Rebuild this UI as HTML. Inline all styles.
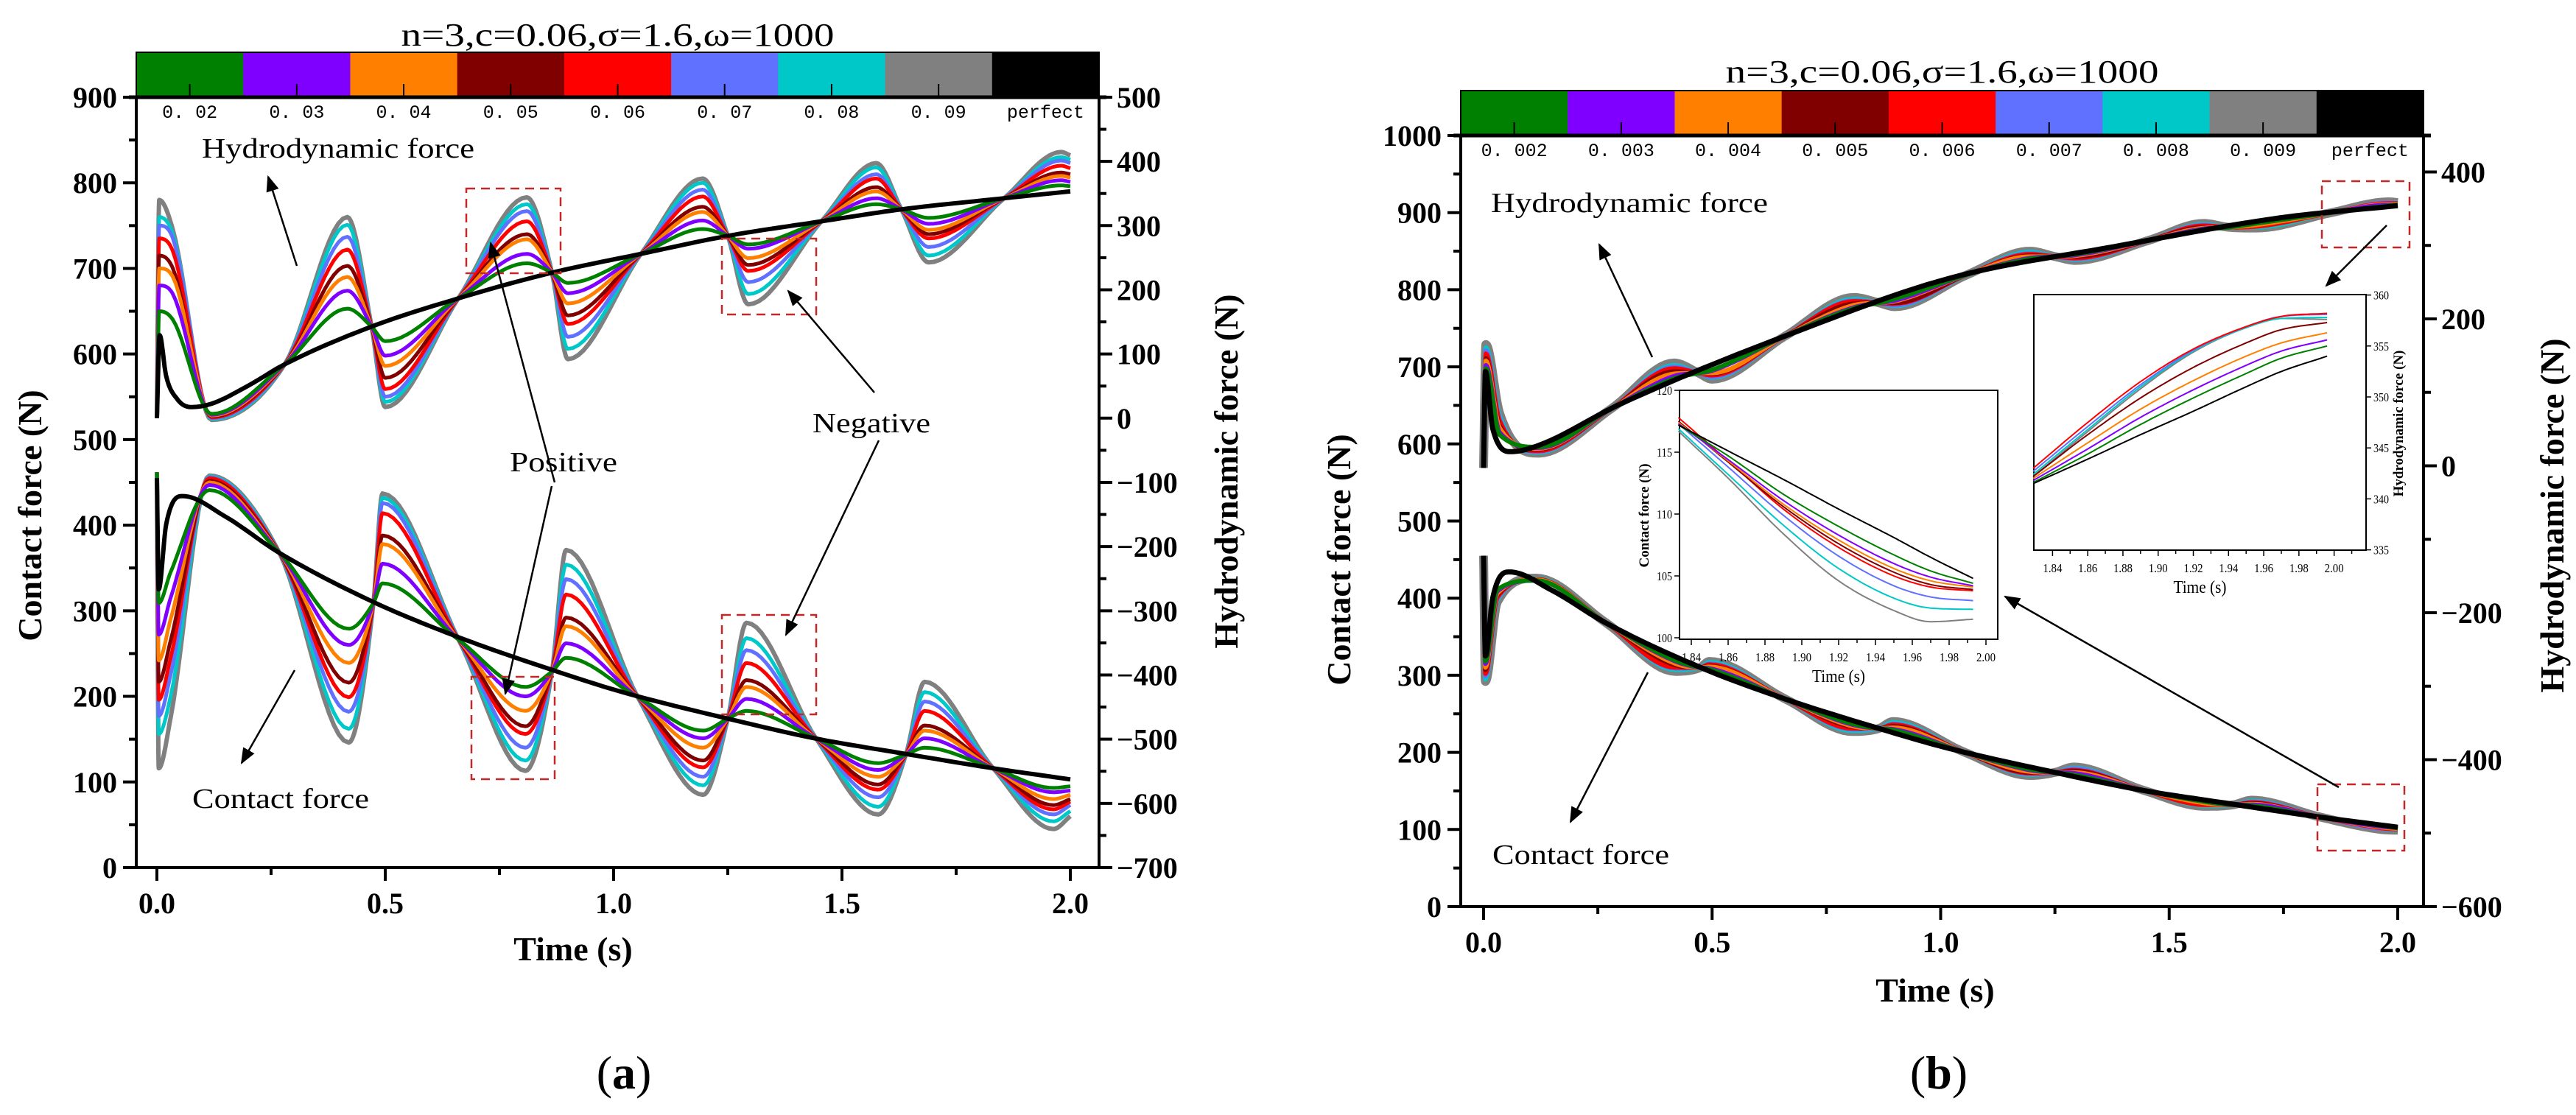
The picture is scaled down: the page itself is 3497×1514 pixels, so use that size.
<!DOCTYPE html>
<html><head><meta charset="utf-8"><style>
html,body{margin:0;padding:0;background:#fff;}
svg{display:block;}
text{font-family:"Liberation Serif",serif;}
.tk{font-weight:bold;font-size:40px;}
.ax{font-weight:bold;font-size:46px;}
.cb{font-family:"Liberation Mono",monospace;font-size:25px;}
.an{font-size:38px;}
.sm{font-size:17px;}
</style></head><body>
<svg id="fig" width="3497" height="1514" viewBox="0 0 3497 1514" xmlns="http://www.w3.org/2000/svg">
<defs>
<marker id="ah" viewBox="0 0 10 10" refX="9" refY="5" markerWidth="22" markerHeight="22" markerUnits="userSpaceOnUse" orient="auto"><path d="M0,1 L10,5 L0,9 z" fill="#000"/></marker>
<clipPath id="clipA"><rect x="185" y="132" width="1307" height="1046"/></clipPath>
<clipPath id="clipB"><rect x="1983" y="184" width="1307" height="1047"/></clipPath>
</defs>
<g id="layer"></g>
</svg>
<script>
// ---------- data ----------
const seriesNames = ["gray","cyan","blue","red","darkred","orange","purple","green"];
const seriesColors = {gray:"#808080",cyan:"#00C8C8",blue:"#6070FF",red:"#FF0000",darkred:"#800000",orange:"#FF8000",purple:"#8000FF",green:"#008000"};
const legendColors = ["#008000","#8000FF","#FF8000","#800000","#FF0000","#6070FF","#00C8C8","#808080","#000000"];
const legendA = ["0. 02","0. 03","0. 04","0. 05","0. 06","0. 07","0. 08","0. 09","perfect"];
const legendB = ["0. 002","0. 003","0. 004","0. 005","0. 006","0. 007","0. 008","0. 009","perfect"];

// Panel (a) hydrodynamic force (values read on contact-force scale)
const tHydro = [0,0.005,0.035,0.12,0.28,0.417,0.47,0.50,0.66,0.81,0.865,0.90,1.06,1.195,1.25,1.295,1.455,1.575,1.63,1.69,1.855,1.98,2.0];
const hydroA_gray    = [525,780,745,523,588,760,632,538,665,783,695,594,717,805,738,658,755,823,769,707,782,836,832];
const hydroA_cyan    = [525,760,740,524,588,751,632,544,665,775,695,606,717,800,738,670,755,818,769,715,782,830,827];
const hydroA_blue    = [525,750,735,525,588,737,632,550,665,767,695,620,717,792,738,684,755,810,769,725,782,826,823];
const hydroA_red     = [525,735,720,526,588,722,632,559,665,755,695,635,717,784,738,697,755,805,769,735,782,820,817];
const hydroA_darkred = [525,715,700,527,588,703,632,572,665,740,695,645,717,772,738,704,755,795,769,740,782,812,810];
const hydroA_orange  = [525,700,690,528,588,690,632,586,665,734,695,659,717,766,738,712,755,790,769,745,782,808,806];
const hydroA_purple  = [525,680,670,529,588,674,632,598,665,717,695,671,717,756,738,723,755,782,769,752,782,803,801];
const hydroA_green   = [525,650,640,530,588,653,632,615,665,706,695,683,717,746,738,728,755,775,769,759,782,797,796];
const tHydroPerfA = [0,0.006,0.02,0.045,0.075,0.12,0.2,0.28,0.47,0.66,0.865,1.06,1.25,1.455,1.63,1.855,2.0];
const hydroA_perfect = [525,622,575,547,538,542,563,588,632,665,695,717,738,755,769,782,790];

// Panel (a) contact force
const tContact = [0,0.004,0.03,0.115,0.268,0.42,0.474,0.494,0.661,0.807,0.865,0.896,1.053,1.196,1.25,1.291,1.443,1.579,1.64,1.681,1.831,1.963,2.0];
const contactA_gray    = [462,116,175,458,368,146,309,437,266,113,229,371,199,85,174,286,151,62,132,217,116,45,60];
const contactA_cyan    = [462,156,200,457,368,162,309,432,266,125,229,354,199,96,174,268,151,71,132,205,116,54,66];
const contactA_blue    = [462,177,225,456,368,182,309,426,266,140,229,337,199,106,174,254,151,82,132,194,116,62,73];
const contactA_red     = [462,196,245,455,368,199,309,414,266,156,229,319,199,117,174,239,151,91,132,183,116,68,77];
const contactA_darkred = [462,217,265,452,368,216,309,388,266,165,229,292,199,125,174,219,151,97,132,166,116,73,80];
const contactA_orange  = [462,242,290,450,368,239,309,378,266,183,229,282,199,140,174,211,151,106,132,160,116,80,85];
const contactA_purple  = [462,272,315,447,368,260,309,355,266,200,229,262,199,151,174,197,151,114,132,151,116,88,90];
const contactA_green   = [462,309,345,441,368,279,309,332,266,211,229,245,199,160,174,183,151,122,132,140,116,93,95];
const tContactPerf = [0,0.004,0.02,0.057,0.15,0.267,0.471,0.661,0.865,1.019,1.25,1.44,1.637,1.831,2.0];
const contactA_perfect = [455,325,400,434,410,368,311,269,231,205,174,151,133,116,103];

// Panel (b) hydrodynamic force
const hydroB_gray    = [569,729,640,588,646,705,692,684,740,790,783,778,820,850,843,838,864,886,881,880,900,914,913];
const hydroB_cyan    = [569,725,637,589,646,702,692,686,740,788,783,779,820,849,843,839,864,885,881,881,900,913,913];
const hydroB_blue    = [569,721,633,590,646,700,692,687,740,786,783,780,820,847,843,840,864,884,881,882,900,913,912];
const hydroB_red     = [569,717,630,591,646,698,692,689,740,785,783,782,820,846,843,841,864,883,881,882,900,912,912];
const hydroB_darkred = [569,711,624,593,646,694,692,691,740,782,783,783,820,844,843,843,864,881,881,884,900,911,911];
const hydroB_orange  = [569,708,621,594,646,691,692,692,740,780,783,785,820,843,843,844,864,880,881,884,900,911,911];
const hydroB_purple  = [569,702,615,595,646,688,692,695,740,777,783,786,820,841,843,845,864,879,881,886,900,910,910];
const hydroB_green   = [569,698,612,596,646,685,692,696,740,776,783,788,820,840,843,846,864,878,881,886,900,909,910];
const tHydroPerfB = [0,0.004,0.02,0.06,0.12,0.3,0.66,1.02,1.38,1.74,2.0];
const hydroB_perfect = [569,694,620,590,598,652,740,815,856,893,909];

// Panel (b) contact force
const contactB_gray    = [455,292,395,426,368,305,310,318,269,227,231,240,200,170,174,181,151,130,132,138,116,100,99];
const contactB_cyan    = [455,295,397,426,368,307,310,317,269,228,231,239,200,171,174,180,151,131,132,137,116,101,99];
const contactB_blue    = [455,299,399,425,368,309,310,315,269,230,231,237,200,172,174,179,151,132,132,136,116,101,100];
const contactB_red     = [455,302,401,425,368,310,310,314,269,231,231,236,200,173,174,177,151,132,132,135,116,102,100];
const contactB_darkred = [455,307,404,424,368,313,310,312,269,233,231,234,200,174,174,176,151,134,132,134,116,103,101];
const contactB_orange  = [455,310,406,424,368,315,310,311,269,234,231,232,200,175,174,174,151,134,132,133,116,103,101];
const contactB_purple  = [455,315,409,423,368,318,310,309,269,236,231,230,200,177,174,173,151,136,132,132,116,104,102];
const contactB_green   = [455,318,411,423,368,319,310,308,269,237,231,229,200,178,174,171,151,136,132,131,116,105,102];
const contactB_perfect = [455,325,400,434,410,368,311,269,231,205,174,151,133,116,103];

// Inset 1 (contact zoom)
const tInset1 = [1.833,1.86,1.89,1.92,1.95,1.97,1.993];
const inset1_perfect = [117.2,115.1,112.8,110.4,108.1,106.5,104.8];
const inset1_green   = [117.2,114.7,111.6,109.0,106.7,105.4,104.4];
const inset1_purple  = [117.3,114.4,111.1,108.3,106.0,104.9,104.2];
const inset1_orange  = [117.4,114.3,110.8,107.9,105.6,104.6,104.1];
const inset1_darkred = [117.5,114.2,110.6,107.6,105.3,104.3,103.9];
const inset1_red     = [117.8,114.3,110.4,107.3,105.0,104.1,103.8];
const inset1_blue    = [117.3,113.8,109.9,106.6,104.2,103.3,103.0];
const inset1_cyan    = [116.9,113.2,109.1,105.6,103.2,102.4,102.3];
const inset1_gray    = [116.7,112.9,108.4,104.6,102.2,101.3,101.5];
const inset1Ticks = [100,105,110,115,120];
const insetXTicks = ["1.84","1.86","1.88","1.90","1.92","1.94","1.96","1.98","2.00"];

// Inset 2 (hydrodynamic zoom)
const tInset2 = [1.829,1.86,1.89,1.92,1.95,1.97,1.996];
const inset2_perfect = [341.5,343.9,346.3,348.6,351.0,352.5,354.0];
const inset2_green   = [341.6,344.4,347.3,349.9,352.3,353.8,355.0];
const inset2_purple  = [341.8,344.9,348.0,350.7,353.1,354.5,355.6];
const inset2_orange  = [342.0,345.5,348.8,351.6,354.0,355.3,356.3];
const inset2_darkred = [342.2,346.3,349.9,352.9,355.3,356.6,357.3];
const inset2_red     = [343.0,347.5,351.5,354.7,356.9,357.9,358.2];
const inset2_blue    = [342.7,347.1,351.2,354.6,356.9,357.9,358.1];
const inset2_cyan    = [342.4,346.8,351.0,354.5,356.8,357.7,357.8];
const inset2_gray    = [342.2,346.6,350.8,354.4,356.8,357.7,357.6];
const inset2Ticks = [335,340,345,350,355,360];

const xTicks = ["0.0","0.5","1.0","1.5","2.0"];
const leftTicksA = [0,100,200,300,400,500,600,700,800,900];
const rightTicksA = [-700,-600,-500,-400,-300,-200,-100,0,100,200,300,400,500];
const leftTicksB = [0,100,200,300,400,500,600,700,800,900,1000];
const rightTicksB = [-600,-400,-200,0,200,400];

// ---------- helpers ----------
const NS="http://www.w3.org/2000/svg";
const layer=document.getElementById('layer');
function el(tag,attrs,parent){const e=document.createElementNS(NS,tag);for(const k in attrs)e.setAttribute(k,attrs[k]);(parent||layer).appendChild(e);return e;}
function txt(s,attrs,parent){const e=el('text',attrs,parent);e.textContent=s;return e;}
function mono(xs,ys){
  const n=xs.length,d=[],m=new Array(n);
  for(let i=0;i<n-1;i++)d.push((ys[i+1]-ys[i])/(xs[i+1]-xs[i]));
  m[0]=d[0];m[n-1]=d[n-2];
  for(let i=1;i<n-1;i++){m[i]=(d[i-1]*d[i]<=0)?0:(d[i-1]+d[i])/2;}
  for(let i=0;i<n-1;i++){if(d[i]===0){m[i]=0;m[i+1]=0;continue;}const a=m[i]/d[i],b=m[i+1]/d[i],s=a*a+b*b;if(s>9){const t=3/Math.sqrt(s);m[i]=t*a*d[i];m[i+1]=t*b*d[i];}}
  return function(x){let i=0;while(i<n-2&&x>xs[i+1])i++;const h=xs[i+1]-xs[i],t=(x-xs[i])/h,t2=t*t,t3=t2*t;
    return (2*t3-3*t2+1)*ys[i]+(t3-2*t2+t)*h*m[i]+(-2*t3+3*t2)*ys[i+1]+(t3-t2)*h*m[i+1];};
}
function curvePath(ts,vs,sx,sy){
  const f=mono(ts,vs);let p="";
  for(let i=0;i<ts.length-1;i++){for(let k=0;k<14;k++){const t=ts[i]+(ts[i+1]-ts[i])*k/14;p+=(p?"L":"M")+sx(t).toFixed(1)+","+sy(f(t)).toFixed(1);}}
  const tl=ts[ts.length-1];p+="L"+sx(tl).toFixed(1)+","+sy(vs[vs.length-1]).toFixed(1);return p;
}

// ---------- panel builder ----------
function panel(cfg){
  const g=el('g',{});
  
  
  const {x0,x1,y0,y1}=cfg;
  const sx=t=>cfg.tx0+t*cfg.tpx, sy=v=>y1-(v-cfg.lmin)*cfg.lpx, sr=v=>y1-(v-cfg.rmin)*cfg.rpx;
  const ti=txt(cfg.title,{x:(x0+x1)/2,y:cfg.titleY,'text-anchor':'middle','font-size':44,textLength:588,lengthAdjust:'spacingAndGlyphs'},g);
  
  const cw=(x1-x0)/9;
  for(let i=0;i<9;i++){
    const r=el('rect',{x:x0+i*cw,y:cfg.cbTop,width:cw+0.5,height:y0-cfg.cbTop,fill:legendColors[i]},g);
    
    el('line',{x1:x0+(i+0.5)*cw,x2:x0+(i+0.5)*cw,y1:y0-18,y2:y0,stroke:'#000','stroke-width':2},g);
    const lt=txt(cfg.legend[i],{x:x0+(i+0.5)*cw,y:y0+28,'text-anchor':'middle',class:'cb'},g);
    
  }
  el('rect',{x:x0,y:cfg.cbTop,width:x1-x0,height:y0-cfg.cbTop,fill:'none',stroke:'#000','stroke-width':2},g);
  const cg=el('g',{'clip-path':cfg.clip},g);
  const groups=[[cfg.tH,cfg.hydro,cfg.tHP,cfg.hydroP,'hydrodynamic'],[cfg.tC,cfg.contact,cfg.tCP,cfg.contactP,'contact']];
  for(const [ts,set,tp,vp,nm] of groups){
    for(const s of seriesNames){
      const p=el('path',{d:curvePath(ts,set[s],sx,sy),fill:'none',stroke:seriesColors[s],'stroke-width':(s==='gray'?cfg.grayW:cfg.lineW),'stroke-linejoin':'round'},cg);
      
      
    }
    const pp=el('path',{d:curvePath(tp,vp,sx,sy),fill:'none',stroke:'#000','stroke-width':cfg.blackW,'stroke-linejoin':'round'},cg);
    
    
  }
  el('rect',{x:x0,y:y0,width:x1-x0,height:y1-y0,fill:'none',stroke:'#000','stroke-width':4},g);
  el('line',{x1:x0-10,x2:x1+10,y1:y0,y2:y0,stroke:'#000','stroke-width':5},g);
  const lt=cfg.leftTicks, lstep=lt[1]-lt[0];
  for(const v of lt){
    const y=sy(v);el('line',{x1:x0-18,x2:x0,y1:y,y2:y,stroke:'#000','stroke-width':4},g);
    const t=txt(String(v),{x:x0-8-18,y:y+14,'text-anchor':'end',class:'tk'},g);
    
    if(v+lstep/2<=cfg.lmax){const ym=sy(v+lstep/2);el('line',{x1:x0-10,x2:x0,y1:ym,y2:ym,stroke:'#000','stroke-width':4},g);}
  }
  const rt=cfg.rightTicks, rstep=rt[1]-rt[0];
  for(const v of rt){
    const y=sr(v);el('line',{x1:x1,x2:x1+18,y1:y,y2:y,stroke:'#000','stroke-width':4},g);
    const t=txt(String(v).replace('-','\u2212'),{x:x1+24,y:y+14,'text-anchor':'start',class:'tk'},g);
    
    const ym=sr(v+rstep/2);if(ym>=y0-1)el('line',{x1:x1,x2:x1+10,y1:ym,y2:ym,stroke:'#000','stroke-width':4},g);
  }
  for(let i=0;i<xTicks.length;i++){
    const x=sx(i*0.5);el('line',{x1:x,x2:x,y1:y1,y2:y1+18,stroke:'#000','stroke-width':4},g);
    const t=txt(xTicks[i],{x:x,y:y1+62,'text-anchor':'middle',class:'tk'},g);
    
    if(i<xTicks.length-1){const xm=sx(i*0.5+0.25);el('line',{x1:xm,x2:xm,y1:y1,y2:y1+10,stroke:'#000','stroke-width':4},g);}
  }
  const xt=txt('Time (s)',{x:cfg.timeX,y:cfg.timeY,'text-anchor':'middle',class:'ax'},g);
  
  const yl=txt('Contact force (N)',{x:0,y:0,'text-anchor':'middle',class:'ax',transform:`translate(${cfg.ylX},${cfg.ylY}) rotate(-90)`},g);
  
  const yr=txt('Hydrodynamic force (N)',{x:0,y:0,'text-anchor':'middle',class:'ax',transform:`translate(${cfg.yrX},${cfg.yrY}) rotate(-90)`},g);
  
  const pl=el('text',{x:cfg.lblX,y:1478,'text-anchor':'middle','font-size':64},g);
  pl.innerHTML='(<tspan font-weight="bold">'+cfg.lbl+'</tspan>)';
  
  return g;
}
</script>
<script>
window.hA={gray:hydroA_gray,cyan:hydroA_cyan,blue:hydroA_blue,red:hydroA_red,darkred:hydroA_darkred,orange:hydroA_orange,purple:hydroA_purple,green:hydroA_green};
window.cA={gray:contactA_gray,cyan:contactA_cyan,blue:contactA_blue,red:contactA_red,darkred:contactA_darkred,orange:contactA_orange,purple:contactA_purple,green:contactA_green};
window.hB={gray:hydroB_gray,cyan:hydroB_cyan,blue:hydroB_blue,red:hydroB_red,darkred:hydroB_darkred,orange:hydroB_orange,purple:hydroB_purple,green:hydroB_green};
window.cB={gray:contactB_gray,cyan:contactB_cyan,blue:contactB_blue,red:contactB_red,darkred:contactB_darkred,orange:contactB_orange,purple:contactB_purple,green:contactB_green};

panel({name:'panel-a',x0:185,x1:1492,y0:132,y1:1178,tx0:213,tpx:620,lmin:0,lmax:900,lpx:1.1622,rmin:-700,rpx:0.8717,
  title:'n=3,c=0.06,\u03c3=1.6,\u03c9=1000',titleY:62,cbTop:71,legend:legendA,clip:'url(#clipA)',
  tH:tHydro,hydro:hA,tHP:tHydroPerfA,hydroP:hydroA_perfect,tC:tContact,contact:cA,tCP:tContactPerf,contactP:contactA_perfect,
  lineW:5,grayW:6,blackW:6,leftTicks:leftTicksA,rightTicks:rightTicksA,timeX:778,timeY:1304,ylX:56,ylY:700,yrX:1680,yrY:640,lblX:847,lbl:'a'});
panel({name:'panel-b',x0:1983,x1:3290,y0:184,y1:1231,tx0:2014,tpx:620.5,lmin:0,lmax:1000,lpx:1.047,rmin:-600,rpx:0.9975,
  title:'n=3,c=0.06,\u03c3=1.6,\u03c9=1000',titleY:112,cbTop:123,legend:legendB,clip:'url(#clipB)',
  tH:tHydro,hydro:hB,tHP:tHydroPerfB,hydroP:hydroB_perfect,tC:tContact,contact:cB,tCP:tContactPerf,contactP:contactB_perfect,
  lineW:6,grayW:12,blackW:7,leftTicks:leftTicksB,rightTicks:rightTicksB,timeX:2627,timeY:1360,ylX:1833,ylY:760,yrX:3480,yrY:700,lblX:2632,lbl:'b'});

// ---------- annotations ----------
function arrow(x1,y1,x2,y2,name){const l=el('line',{x1,y1,x2,y2,stroke:'#000','stroke-width':2.5,'marker-end':'url(#ah)'});}
function box(x,y,w,h,name){const r=el('rect',{x,y,width:w,height:h,fill:'none',stroke:'#c0282a','stroke-width':2.5,'stroke-dasharray':'12,8'});}
function ann(s,x,y,w,name){const t=txt(s,{x,y,class:'an',textLength:w,lengthAdjust:'spacingAndGlyphs'});}
ann('Hydrodynamic force',274,214,370,'hydrodynamic-annotation');
arrow(403,361,364,240,'hydrodynamic-arrow');
box(633,256,128,115,'positive-box-upper');
box(980,324,128,103,'negative-box-upper');
box(640,919,113,139,'positive-box-lower');
box(980,835,128,135,'negative-box-lower');
ann('Positive',692,640,146,'positive-annotation');
arrow(753,655,666,330,'positive-arrow-up');
arrow(749,660,686,942,'positive-arrow-down');
ann('Negative',1103,587,160,'negative-annotation');
arrow(1187,533,1070,395,'negative-arrow-up');
arrow(1193,598,1067,862,'negative-arrow-down');
ann('Contact force',261,1097,240,'contact-annotation');
arrow(400,910,328,1036,'contact-arrow');
ann('Hydrodynamic force',2024,288,376,'hydrodynamic-annotation-b');
arrow(2243,485,2171,332,'hydrodynamic-arrow-b');
box(3152,246,119,90,'zoom-box-hydro');
arrow(3240,306,3158,388,'zoom-arrow-hydro');
ann('Contact force',2026,1173,240,'contact-annotation-b');
arrow(2237,913,2132,1116,'contact-arrow-b');
box(3146,1065,118,90,'zoom-box-contact');
arrow(3175,1069,2722,810,'zoom-arrow-contact');

// ---------- insets ----------
function inset(cfg){
  const g=el('g',{});
  
  
  el('rect',{x:cfg.x0,y:cfg.y0,width:cfg.x1-cfg.x0,height:cfg.y1-cfg.y0,fill:'#fff',stroke:'#000','stroke-width':2},g);
  const sx=t=>cfg.xa+(t-1.84)*cfg.xs, sy=v=>cfg.ya+(cfg.vtop-v)*cfg.ys;
  const order=['gray','cyan','blue','red','darkred','orange','purple','green'];
  for(const s of order){
    const p=el('path',{d:curvePath(cfg.t,cfg.data[s],sx,sy),fill:'none',stroke:seriesColors[s],'stroke-width':2},g);
    
    
  }
  const bp=el('path',{d:curvePath(cfg.t,cfg.perfect,sx,sy),fill:'none',stroke:'#000','stroke-width':2},g);
  
  
  for(let i=0;i<insetXTicks.length;i++){
    const x=sx(1.84+i*0.02);el('line',{x1:x,x2:x,y1:cfg.y1,y2:cfg.y1+8,stroke:'#000','stroke-width':1.5},g);
    const t=txt(insetXTicks[i],{x:x,y:cfg.y1+30,'text-anchor':'middle',class:'sm',textLength:26,lengthAdjust:'spacingAndGlyphs'},g);
    
    const xm=x+cfg.xs*0.01;if(xm<cfg.x1)el('line',{x1:xm,x2:xm,y1:cfg.y1,y2:cfg.y1+5,stroke:'#000','stroke-width':1.5},g);
  }
  for(const v of cfg.yt){
    const y=sy(v);const xx=cfg.side==='left'?cfg.x0:cfg.x1,dir=cfg.side==='left'?-1:1;
    el('line',{x1:xx,x2:xx+dir*7,y1:y,y2:y,stroke:'#000','stroke-width':1.5},g);
    const t=txt(String(v),{x:xx+dir*10,y:y+6,'text-anchor':cfg.side==='left'?'end':'start',class:'sm',textLength:String(v).length*7,lengthAdjust:'spacingAndGlyphs'},g);
    
  }
  const xt=txt('Time (s)',{x:(cfg.x0+cfg.x1)/2,y:cfg.y1+58,'text-anchor':'middle','font-size':24,textLength:72,lengthAdjust:'spacingAndGlyphs'},g);
  
  const yt=txt(cfg.ylabel,{x:0,y:0,'text-anchor':'middle','font-size':19,'font-weight':'bold',transform:`translate(${cfg.ylx},${cfg.yly}) rotate(-90)`},g);
  
}
inset({name:'contact-inset',x0:2280,x1:2712,y0:530,y1:868,xa:2296,xs:2500,ya:866,vtop:100,ys:16.8,t:tInset1,
  data:{gray:inset1_gray,cyan:inset1_cyan,blue:inset1_blue,red:inset1_red,darkred:inset1_darkred,orange:inset1_orange,purple:inset1_purple,green:inset1_green},
  perfect:inset1_perfect,yt:inset1Ticks,side:'left',ylabel:'Contact force (N)',ylx:2238,yly:700});
inset({name:'hydrodynamic-inset',x0:2761,x1:3212,y0:400,y1:747,xa:2786.4,xs:2389,ya:400.6,vtop:360,ys:13.84,t:tInset2,
  data:{gray:inset2_gray,cyan:inset2_cyan,blue:inset2_blue,red:inset2_red,darkred:inset2_darkred,orange:inset2_orange,purple:inset2_purple,green:inset2_green},
  perfect:inset2_perfect,yt:inset2Ticks,side:'right',ylabel:'Hydrodynamic force (N)',ylx:3262,yly:575});
</script>
</body></html>
